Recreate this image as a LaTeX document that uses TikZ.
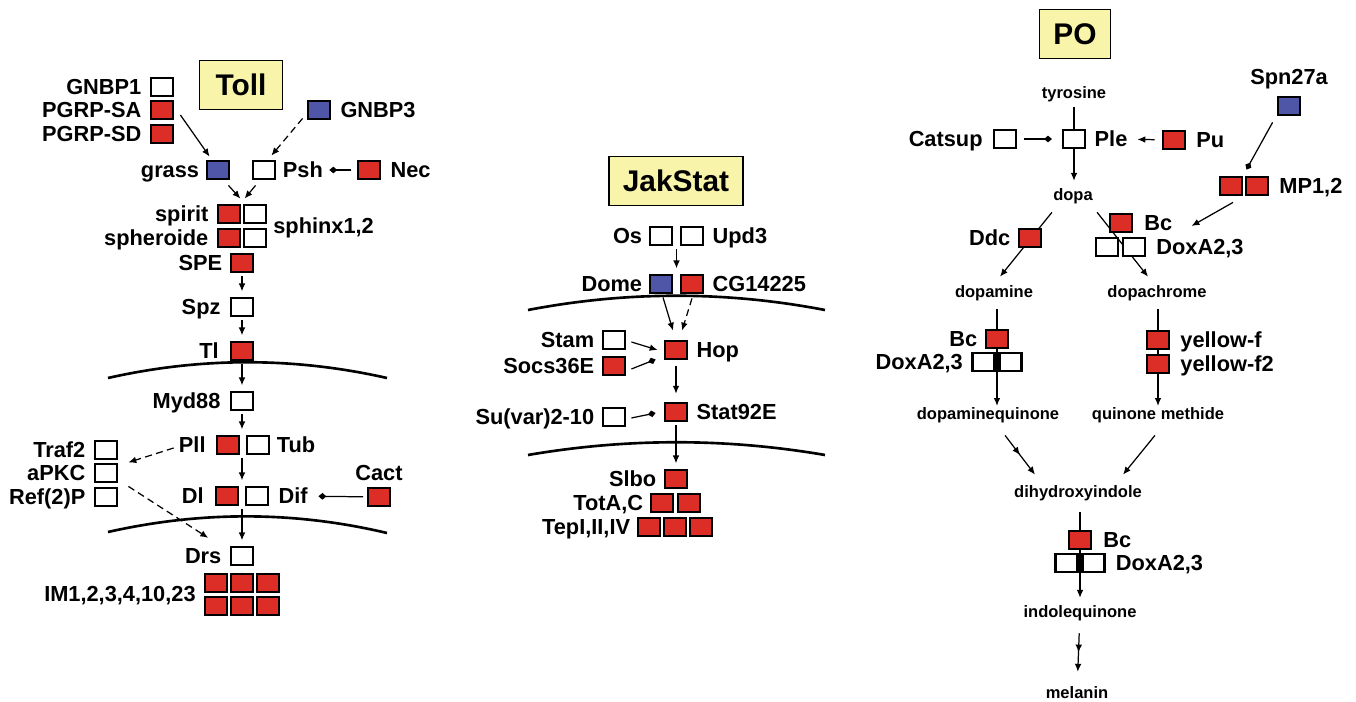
\documentclass[tikz,border=0pt]{standalone}
\usepackage{fontspec}
\setmainfont{Liberation Sans}
\usetikzlibrary{positioning,calc,arrows.meta,decorations.markings,backgrounds}

\definecolor{RougeGene}{RGB}{221,45,39}
\definecolor{BleuGene}{RGB}{79,86,167}
\definecolor{JauneTitre}{RGB}{248,245,171}

\begin{document}
\begin{tikzpicture}[x=0.02cm,y=-0.02cm,
  gene/.style={draw=black,line width=1.6pt,fill=white,minimum width=0.44cm,minimum height=0.36cm,inner sep=0pt},
  rouge/.style={gene,fill=RougeGene},
  bleu/.style={gene,fill=BleuGene},
  nom/.style={font=\bfseries\fontsize{12.4}{14}\selectfont,inner sep=0pt,text height=8.9pt,text depth=0pt},
  mol/.style={font=\bfseries\fontsize{9.4}{11}\selectfont,inner sep=0pt,text height=6.8pt,text depth=0pt},
  titre/.style={draw=black,line width=0.8pt,fill=JauneTitre,inner sep=0pt,minimum height=0.99cm,font=\bfseries\fontsize{17}{20}\selectfont},
  fleche/.style={-{Latex[length=4.5pt,width=3.8pt]},line width=0.7pt},
  bloque/.style={-{Diamond[length=4.5pt,width=3.8pt]},line width=0.7pt},
  vert/.style={fleche,shorten <=1.5pt,shorten >=3pt},
  tirets/.style={dash pattern=on 4pt off 2.5pt},
  deuxfleches/.style={postaction={decorate},decoration={markings,mark=at position .5 with {\arrow{Latex[length=4.5pt,width=3.8pt]}}}},
  membrane/.style={line width=1.5pt}]

\useasboundingbox (0,0) rectangle (1356,702);

%%%%%%%%%%%%%%%%%%%%%%%%
% Voie Toll
%%%%%%%%%%%%%%%%%%%%%%%%
\node[titre,minimum width=1.66cm] (tToll) at (241,85) {Toll};
\node[gene] (GNBP1) at (162,87) {};
\node[rouge] (PGRPSA) at (162,110) {};
\node[rouge] (PGRPSD) at (162,134) {};
\node[bleu] (GNBP3) at (319,110) {};
\node[bleu] (grass) at (218,170) {};
\node[gene] (Psh) at (264,170) {};
\node[rouge] (Nec) at (369,170) {};
\node[rouge] (spiritA) at (229,214) {};
\node[gene] (spiritB) at (255,214) {};
\node[rouge] (spherA) at (229,238) {};
\node[gene] (spherB) at (255,238) {};
\node[rouge] (SPE) at (242,263) {};
\node[gene] (Spz) at (242,307) {};
\node[rouge] (Tl) at (242,351) {};
\node[gene] (Myd88) at (242,401) {};
\node[rouge] (Pll) at (228,445) {};
\node[gene] (Tub) at (258,445) {};
\node[gene] (Traf2) at (106,450) {};
\node[gene] (aPKC) at (106,473) {};
\node[gene] (Ref2P) at (106,497) {};
\node[rouge] (Dl) at (227,496) {};
\node[gene] (Dif) at (257,496) {};
\node[rouge] (Cact) at (379,497) {};
\node[gene] (Drs) at (242,556) {};
% peptides antimicrobiens
\foreach \i in {0,1,2}{\foreach \j in {0,1}{\node[rouge] (IM\i\j) at (216+26*\i,583+23*\j) {};}}

\node[nom,left=4.5pt of GNBP1] (lGNBP1) {GNBP1};
\node[nom,left=4.5pt of PGRPSA] (lPGRPSA) {PGRP-SA};
\node[nom,left=4.5pt of PGRPSD] (lPGRPSD) {PGRP-SD};
\node[nom,right=5pt of GNBP3] (lGNBP3) {GNBP3};
\node[nom,left=3.5pt of grass] (lgrass) {grass};
\node[nom,right=3.5pt of Psh] (lPsh) {Psh};
\node[nom,right=5pt of Nec] (lNec) {Nec};
\node[nom,left=4.5pt of spiritA] (lspirit) {spirit};
\node[nom,left=4.5pt of spherA] (lspher) {spheroide};
\node[nom,anchor=west] (lsphinx) at (273,226) {sphinx1,2};
\node[nom,left=4pt of SPE] (lSPE) {SPE};
\node[nom,left=5pt of Spz] (lSpz) {Spz};
\node[nom,left=6pt of Tl] (lTl) {Tl};
\node[nom,left=5pt of Myd88] (lMyd88) {Myd88};
\node[nom,left=5.5pt of Pll] (lPll) {Pll};
\node[nom,right=3.5pt of Tub] (lTub) {Tub};
\node[nom,left=4.5pt of Traf2] (lTraf2) {Traf2};
\node[nom,left=4.5pt of aPKC] (laPKC) {aPKC};
\node[nom,left=4.5pt of Ref2P] (lRef2P) {Ref(2)P};
\node[nom,left=6pt of Dl] (lDl) {Dl};
\node[nom,right=5pt of Dif] (lDif) {Dif};
\node[nom,above=3pt of Cact] (lCact) {Cact};
\node[nom,left=4.5pt of Drs] (lDrs) {Drs};
\node[nom,anchor=east] (lIM) at (196,594) {IM1,2,3,4,10,23};

\draw[fleche] ($(PGRPSA.east)+(6,5)$) -- ($(grass.north west)+(4,-3)$);
\draw[fleche,tirets] ($(GNBP3.south west)+(-4,-2)$) -- ($(Psh.north east)+(-5,-4)$);
\draw[bloque,shorten <=3pt,shorten >=3.5pt] (Nec) -- (lPsh);
\draw[fleche] ($(grass.south east)+(-2,5)$) -- ($(spiritA.north east)+(-1,-5)$);
\draw[fleche] ($(Psh.south west)+(4,5)$) -- ($(spiritB.north west)+(2,-5)$);
\draw[vert] (SPE) -- (Spz);
\draw[vert] (Spz) -- (Tl);
\draw[vert] (Tl) -- (Myd88);
\draw[vert] (Myd88) -- (Myd88 |- Pll.north);
\draw[vert] (Myd88 |- Pll.south) -- (Myd88 |- Dl.north);
\draw[vert] (Drs |- Dl.south) -- (Drs);
\draw[fleche,tirets] ($(lPll.west)+(-5,3)$) -- ($(Traf2.south east)+(10,2)$);
\draw[fleche,tirets] ($(aPKC.south east)+(10,3)$) -- ($(lDrs.north)+(5,-10)$);
\draw[bloque,shorten <=2pt,shorten >=6pt] (Cact) -- (lDif);

%%%%%%%%%%%%%%%%%%%%%%%%
% Voie JakStat
%%%%%%%%%%%%%%%%%%%%%%%%
\node[titre,minimum width=2.68cm] (tJak) at (676,181) {JakStat};
\node[gene] (Os) at (661,236) {};
\node[gene] (Upd3) at (692,236) {};
\node[bleu] (Dome) at (661,284) {};
\node[rouge] (CG) at (692,284) {};
\node[rouge] (Hop) at (676,350) {};
\node[gene] (Stam) at (614,340) {};
\node[rouge] (Socs) at (614,366) {};
\node[rouge] (Stat) at (676,412) {};
\node[gene] (Suvar) at (614,417) {};
\node[rouge] (Slbo) at (676,479) {};
\foreach \i in {0,1}{\node[rouge] (Tot\i) at (662+27*\i,503) {};}
\foreach \i in {0,1,2}{\node[rouge] (Tep\i) at (649+26*\i,527) {};}

\node[nom,left=3.5pt of Os] (lOs) {Os};
\node[nom,right=4.5pt of Upd3] (lUpd3) {Upd3};
\node[nom,left=3.5pt of Dome] (lDome) {Dome};
\node[nom,right=4.5pt of CG] (lCG) {CG14225};
\node[nom,right=4.5pt of Hop] (lHop) {Hop};
\node[nom,left=4pt of Stam] (lStam) {Stam};
\node[nom,left=4pt of Socs] (lSocs) {Socs36E};
\node[nom,right=4.5pt of Stat] (lStat) {Stat92E};
\node[nom,left=4pt of Suvar] (lSuvar) {Su(var)2-10};
\node[nom,left=4pt of Slbo] (lSlbo) {Slbo};
\node[nom,left=3.5pt of Tot0] (lTot) {TotA,C};
\node[nom,left=3.5pt of Tep0] (lTep) {TepI,II,IV};

\draw[vert] ($(Os.south)!.5!(Upd3.south)$) -- ($(Dome.north)!.5!(CG.north)$);
\draw[fleche] ($(Dome.south)+(2,3)$) -- ($(Hop.north)+(-3,-9)$);
\draw[fleche,tirets] ($(CG.south)+(0,4)$) -- ($(Hop.north)+(6,-9)$);
\draw[fleche] ($(Stam.east)+(5,2)$) -- ($(Hop.west)+(-6,0)$);
\draw[bloque] ($(Socs.east)+(5,3)$) -- ($(Hop.south west)+(-8,-1)$);
\draw[vert,shorten <=3pt,shorten >=4.5pt] (Hop) -- (Stat);
\draw[bloque] ($(Suvar.east)+(5,1)$) -- ($(Stat.west)+(-8,1)$);
\draw[vert] (Stat) -- (Slbo);

%%%%%%%%%%%%%%%%%%%%%%%%
% Voie PO (melanisation)
%%%%%%%%%%%%%%%%%%%%%%%%
\node[titre,minimum width=1.42cm] (tPO) at (1075,34) {PO};
\node[mol] (tyr) at (1074,93) {tyrosine};
\node[gene] (Ple) at (1074,139) {};
\node[gene] (Catsup) at (1005,139) {};
\node[rouge] (Pu) at (1174,140) {};
\node[mol] (dopa) at (1073,195) {dopa};
\node[bleu] (Spn) at (1289,106) {};
\node[rouge] (MPa) at (1231,186) {};
\node[rouge] (MPb) at (1257,186) {};
\node[rouge] (BcA) at (1121,223) {};
\node[gene] (DoxAa) at (1107,247) {};
\node[gene] (DoxAb) at (1134,247) {};
\node[rouge] (Ddc) at (1030,238) {};
\node[mol] (dopamine) at (994,292) {dopamine};
\node[mol] (dchrome) at (1157,292) {dopachrome};
\node[rouge] (BcB) at (997,339) {};
\node[gene] (DoxBa) at (983.5,362) {};
\node[gene] (DoxBb) at (1010.5,362) {};
\node[rouge] (yf) at (1158,340) {};
\node[rouge] (yf2) at (1158,364) {};
\node[mol] (dquin) at (988,414) {dopaminequinone};
\node[mol] (qmeth) at (1158,414) {quinone methide};
\node[mol] (dhi) at (1078,492) {dihydroxyindole};
\node[rouge] (BcC) at (1080,540) {};
\node[gene] (DoxCa) at (1066.5,563) {};
\node[gene] (DoxCb) at (1093.5,563) {};
\node[mol] (iq) at (1080,612) {indolequinone};
\node[mol] (mel) at (1077,693) {melanin};

\node[nom,left=5.5pt of Catsup] (lCatsup) {Catsup};
\node[nom,right=4.5pt of Ple] (lPle) {Ple};
\node[nom,right=5.5pt of Pu] (lPu) {Pu};
\node[nom,above=6pt of Spn] (lSpn) {Spn27a};
\node[nom,right=5.5pt of MPb] (lMP) {MP1,2};
\node[nom,right=6pt of BcA] (lBcA) {Bc};
\node[nom,right=5.5pt of DoxAb] (lDoxA) {DoxA2,3};
\node[nom,left=4pt of Ddc] (lDdc) {Ddc};
\node[nom,left=4pt of BcB] (lBcB) {Bc};
\node[nom,left=4.5pt of DoxBa] (lDoxB) {DoxA2,3};
\node[nom,right=5.5pt of yf] (lyf) {yellow-f};
\node[nom,right=5.5pt of yf2] (lyf2) {yellow-f2};
\node[nom,right=6pt of BcC] (lBcC) {Bc};
\node[nom,right=5.5pt of DoxCb] (lDoxC) {DoxA2,3};

\draw[line width=0.7pt,shorten <=4.5pt] (Ple |- tyr.south) -- (Ple);
\draw[bloque,shorten <=3.5pt,shorten >=5.5pt] (Catsup) -- (Ple);
\draw[fleche,shorten <=4pt,shorten >=5.5pt] (Pu) -- (lPle);
\draw[fleche,shorten >=4.5pt] (Ple) -- (Ple |- dopa.north);
\draw[bloque] ($(Spn.south west)+(-4,6)$) -- ($(MPa.north east)+(3,-6)$);
\draw[fleche] ($(MPa.south)+(2,6)$) -- ($(lBcA.east)+(19,3)$);
\draw[fleche,deuxfleches] ($(dquin.south)+(17,15)$) -- ($(dhi.north)+(-43,-11)$);
\draw[fleche] ($(qmeth.south)+(-3,15)$) -- ($(dhi.north)+(45,-11)$);
\draw[fleche,deuxfleches,shorten <=8.5pt,shorten >=8.5pt] (iq) -- (mel);

% membranes et traits sous les boites
\begin{scope}[on background layer]
\draw[membrane] (108,378) .. controls (201,357) and (294,357) .. (387,378);
\draw[membrane] (108,532) .. controls (201,511) and (294,511) .. (387,533);
\draw[membrane] (528,310) .. controls (627,291) and (726,291) .. (825,310);
\draw[membrane] (528,455) .. controls (627,438) and (726,438) .. (825,455);
\draw[fleche] ($(dopa.south east)+(4,11)$) -- ($(dchrome.north)+(-9,-9)$);
\draw[fleche] ($(dopa.south west)+(-1,11)$) -- ($(dopamine.north)+(6,-9)$);
\draw[fleche,shorten <=6pt,shorten >=1pt] (dopamine.south -| BcB) -- (dquin.north -| BcB);
\draw[fleche,shorten <=6pt,shorten >=1pt] (dchrome.south -| yf) -- (qmeth.north -| yf);
\draw[fleche,shorten <=8pt,shorten >=4.5pt] (dhi.south -| BcC) -- (iq.north -| BcC);
\end{scope}

\end{tikzpicture}
\end{document}
